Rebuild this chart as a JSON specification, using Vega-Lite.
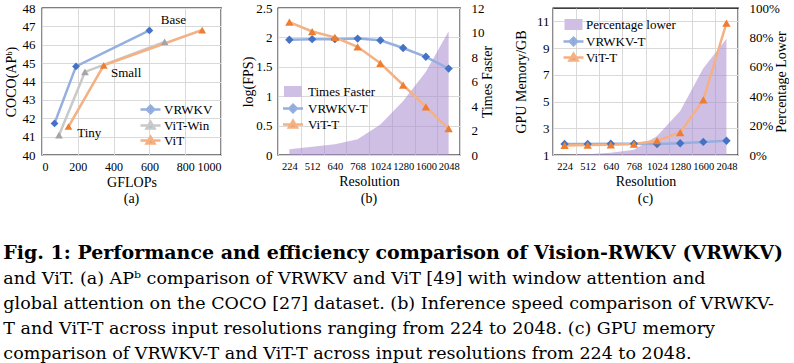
{
  "$schema": "https://vega.github.io/schema/vega-lite/v6.json",
  "background": "white",
  "padding": {"left": 3, "top": 1, "right": 0, "bottom": 0},
  "config": {
    "font": "Liberation Serif",
    "view": {"stroke": "black", "strokeWidth": 1.3},
    "axis": {"labelFont": "Liberation Serif", "titleFont": "Liberation Serif", "labelColor": "black", "titleColor": "black", "titleFontWeight": "normal", "ticks": false, "domain": false, "gridColor": "#d9d9d9", "gridWidth": 1, "labelFontSize": 13, "titleFontSize": 14, "labelOverlap": false},
    "legend": {"labelFont": "Liberation Serif", "labelColor": "black", "labelFontSize": 13, "padding": 0}
  },
  "title": {
    "text": "Fig. 1: Performance and efficiency comparison of Vision-RWKV (VRWKV)",
    "subtitle": ["and ViT. (a) APᵇ comparison of VRWKV and ViT [49] with window attention and", "global attention on the COCO [27] dataset. (b) Inference speed comparison of VRWKV-", "T and ViT-T across input resolutions ranging from 224 to 2048. (c) GPU memory", "comparison of VRWKV-T and ViT-T across input resolutions from 224 to 2048."],
    "orient": "bottom", "anchor": "start", "frame": "bounds", "offset": 37,
    "font": "DejaVu Serif", "fontSize": 19, "fontWeight": "bold", "color": "black",
    "subtitleFont": "DejaVu Serif", "subtitleFontSize": 17.5, "subtitleColor": "black", "subtitleLineHeight": 25, "subtitlePadding": 7
  },
  "spacing": 18,
  "resolve": {"scale": {"fill": "independent", "shape": "independent", "stroke": "independent"}, "legend": {"fill": "independent", "shape": "independent", "stroke": "independent"}},
  "hconcat": [
    {
      "width": 179, "height": 147,
      "title": {"text": "(a)", "orient": "bottom", "offset": 3, "fontSize": 14, "fontWeight": "normal", "font": "Liberation Serif", "color": "black"},
      "data": {"values": [
        {"model": "VRWKV", "gflops": 70, "ap": 41.72},
        {"model": "VRWKV", "gflops": 190, "ap": 44.82},
        {"model": "VRWKV", "gflops": 600, "ap": 46.78},
        {"model": "ViT-Win", "gflops": 95, "ap": 41.08},
        {"model": "ViT-Win", "gflops": 240, "ap": 44.52},
        {"model": "ViT-Win", "gflops": 685, "ap": 46.16},
        {"model": "ViT", "gflops": 148, "ap": 41.55},
        {"model": "ViT", "gflops": 345, "ap": 44.88},
        {"model": "ViT", "gflops": 895, "ap": 46.8}
      ]},
      "resolve": {"scale": {"fill": "independent", "shape": "independent", "stroke": "independent"}},
      "layer": [
        {
          "mark": {"type": "line", "strokeWidth": 2.5},
          "encoding": {
            "x": {"field": "gflops", "type": "quantitative", "scale": {"domain": [0, 1000]}, "axis": {"title": "GFLOPs", "values": [0, 200, 400, 600, 800, 1000], "format": "d", "labelOverlap": false, "labelFontSize": 12, "labelPadding": 6, "titlePadding": 3, "titleFontSize": 14}},
            "y": {"field": "ap", "type": "quantitative", "scale": {"domain": [40, 48]}, "axis": {"title": "COCO(APᵇ)", "values": [40, 41, 42, 43, 44, 45, 46, 47, 48], "labelOverlap": false, "labelPadding": 7, "titleX": -31, "titleBaseline": "middle"}},
            "stroke": {"field": "model", "type": "nominal", "scale": {"range": ["#95afdf", "#f4b183", "#c9c9c9"]}, "legend": null}
          }
        },
        {
          "mark": {"type": "point", "filled": true, "size": 60, "opacity": 1},
          "encoding": {
            "x": {"field": "gflops", "type": "quantitative", "scale": {"domain": [0, 1000]}, "axis": {"title": "GFLOPs", "values": [0, 200, 400, 600, 800, 1000], "format": "d", "labelOverlap": false, "labelFontSize": 12, "labelPadding": 6, "titlePadding": 3, "titleFontSize": 14}},
            "y": {"field": "ap", "type": "quantitative", "scale": {"domain": [40, 48]}, "axis": {"title": "COCO(APᵇ)", "values": [40, 41, 42, 43, 44, 45, 46, 47, 48], "labelOverlap": false, "labelPadding": 7, "titleX": -31, "titleBaseline": "middle"}},
            "fill": {"field": "model", "type": "nominal", "scale": {"range": ["#4472c4", "#ed7d31", "#a5a5a5"]}, "legend": null},
            "shape": {"field": "model", "type": "nominal", "scale": {"range": ["diamond", "triangle-up", "triangle-up"]}, "legend": null}
          }
        },
        {
          "data": {"values": [
            {"label": "Base", "gflops": 734, "ap": 47.37},
            {"label": "Small", "gflops": 470, "ap": 44.47},
            {"label": "Tiny", "gflops": 264, "ap": 41.18}
          ]},
          "mark": {"type": "text", "fontSize": 13, "font": "Liberation Serif", "color": "black"},
          "encoding": {
            "x": {"field": "gflops", "type": "quantitative", "scale": {"domain": [0, 1000]}, "axis": {"title": "GFLOPs", "values": [0, 200, 400, 600, 800, 1000], "format": "d", "labelOverlap": false, "labelFontSize": 12, "labelPadding": 6, "titlePadding": 3, "titleFontSize": 14}},
            "y": {"field": "ap", "type": "quantitative", "scale": {"domain": [40, 48]}, "axis": {"title": "COCO(APᵇ)", "values": [40, 41, 42, 43, 44, 45, 46, 47, 48], "labelOverlap": false, "labelPadding": 7, "titleX": -31, "titleBaseline": "middle"}},
            "text": {"field": "label"}
          }
        },
        {
          "transform": [{"filter": "false"}],
          "mark": {"type": "point", "filled": true},
          "encoding": {
            "fill": {"field": "model", "type": "nominal", "scale": {"domain": ["VRWKV", "ViT-Win", "ViT"], "range": ["#4472c4", "#a5a5a5", "#ed7d31"]},
              "legend": {"title": null, "orient": "none", "legendX": 102, "legendY": 95, "symbolSize": 100, "symbolStrokeWidth": 2.5, "symbolOpacity": 1, "rowPadding": -4, "labelOffset": 7}},
            "stroke": {"field": "model", "type": "nominal", "scale": {"domain": ["VRWKV", "ViT-Win", "ViT"], "range": ["#95afdf", "#c9c9c9", "#f4b183"]},
              "legend": {"title": null, "orient": "none", "legendX": 102, "legendY": 95, "symbolSize": 100, "symbolStrokeWidth": 2.5, "symbolOpacity": 1, "rowPadding": -4, "labelOffset": 7}},
            "shape": {"field": "model", "type": "nominal", "scale": {"domain": ["VRWKV", "ViT-Win", "ViT"], "range": ["M-2,0H2M0,-0.75L0.75,0L0,0.75L-0.75,0Z", "M-2,0H2M0,-0.75L0.8,0.6L-0.8,0.6Z", "M-2,0H2M0,-0.75L0.8,0.6L-0.8,0.6Z"]},
              "legend": {"title": null, "orient": "none", "legendX": 102, "legendY": 95, "symbolSize": 100, "symbolStrokeWidth": 2.5, "symbolOpacity": 1, "rowPadding": -4, "labelOffset": 7}}
          }
        }
      ]
    },
    {
      "width": 182, "height": 147,
      "title": {"text": "(b)", "orient": "bottom", "offset": 3, "fontSize": 14, "fontWeight": "normal", "font": "Liberation Serif", "color": "black"},
      "data": {"values": [
        {"res": "224", "fps": 1.96, "series": "VRWKV-T"},
        {"res": "512", "fps": 1.97, "series": "VRWKV-T"},
        {"res": "640", "fps": 1.97, "series": "VRWKV-T"},
        {"res": "768", "fps": 1.98, "series": "VRWKV-T"},
        {"res": "1024", "fps": 1.95, "series": "VRWKV-T"},
        {"res": "1280", "fps": 1.82, "series": "VRWKV-T"},
        {"res": "1600", "fps": 1.67, "series": "VRWKV-T"},
        {"res": "2048", "fps": 1.47, "series": "VRWKV-T"},
        {"res": "224", "fps": 2.26, "series": "ViT-T"},
        {"res": "512", "fps": 2.1, "series": "ViT-T"},
        {"res": "640", "fps": 2.0, "series": "ViT-T"},
        {"res": "768", "fps": 1.84, "series": "ViT-T"},
        {"res": "1024", "fps": 1.56, "series": "ViT-T"},
        {"res": "1280", "fps": 1.19, "series": "ViT-T"},
        {"res": "1600", "fps": 0.82, "series": "ViT-T"},
        {"res": "2048", "fps": 0.45, "series": "ViT-T"}
      ]},
      "layer": [
        {
          "data": {"values": [
            {"res": "224", "tf": 0.47},
            {"res": "512", "tf": 0.68},
            {"res": "640", "tf": 0.88},
            {"res": "768", "tf": 1.29},
            {"res": "1024", "tf": 2.5},
            {"res": "1280", "tf": 4.4},
            {"res": "1600", "tf": 6.8},
            {"res": "2048", "tf": 10.1}
          ]},
          "mark": {"type": "area", "color": "#a98bcf", "opacity": 0.55},
          "encoding": {
            "x": {"field": "res", "type": "ordinal", "bandPosition": 0.5, "scale": {"type": "band", "paddingInner": 0, "paddingOuter": 0, "domain": ["224", "512", "640", "768", "1024", "1280", "1600", "2048"]},
              "axis": {"title": "Resolution", "grid": true, "tickBand": "extent", "labelAngle": 0, "labelFontSize": 10.5, "labelPadding": 6, "titlePadding": 3}},
            "y": {"field": "tf", "type": "quantitative", "scale": {"domain": [0, 12]}, "axis": {"orient": "right", "title": "Times Faster", "values": [0, 2, 4, 6, 8, 10, 12], "labelOverlap": false, "grid": false, "labelPadding": 11, "titleAngle": 270, "titleX": 27, "titleBaseline": "middle"}}
          }
        },
        {
          "layer": [
            {
              "mark": {"type": "line", "strokeWidth": 2.5},
              "encoding": {
                "x": {"field": "res", "type": "ordinal", "bandPosition": 0.5, "axis": {"title": "Resolution", "grid": true, "tickBand": "extent", "labelAngle": 0, "labelFontSize": 10.5, "labelPadding": 6, "titlePadding": 3}},
                "y": {"field": "fps", "type": "quantitative", "scale": {"domain": [0, 2.5]}, "axis": {"orient": "left", "title": "log(FPS)", "values": [0, 0.5, 1, 1.5, 2, 2.5], "labelOverlap": false, "labelExpr": "'' + datum.value", "grid": true, "labelPadding": 6, "titleX": -30, "titleBaseline": "middle"}},
                "stroke": {"field": "series", "type": "nominal", "scale": {"range": ["#95afdf", "#f4b183"]}, "legend": null}
              }
            },
            {
              "mark": {"type": "point", "filled": true, "size": 70, "opacity": 1},
              "encoding": {
                "x": {"field": "res", "type": "ordinal", "bandPosition": 0.5, "axis": {"title": "Resolution", "grid": true, "tickBand": "extent", "labelAngle": 0, "labelFontSize": 10.5, "labelPadding": 6, "titlePadding": 3}},
                "y": {"field": "fps", "type": "quantitative", "scale": {"domain": [0, 2.5]}, "axis": {"orient": "left", "title": "log(FPS)", "values": [0, 0.5, 1, 1.5, 2, 2.5], "labelOverlap": false, "labelExpr": "'' + datum.value", "grid": true, "labelPadding": 6, "titleX": -30, "titleBaseline": "middle"}},
                "fill": {"field": "series", "type": "nominal", "scale": {"range": ["#4472c4", "#ed7d31"]}, "legend": null},
                "shape": {"field": "series", "type": "nominal", "scale": {"range": ["diamond", "triangle-up"]}, "legend": null}
              }
            }
          ]
        },
        {
          "transform": [{"filter": "false"}],
          "mark": {"type": "point", "filled": true},
          "encoding": {
            "fill": {"field": "series", "type": "nominal", "scale": {"domain": ["Times Faster", "VRWKV-T", "ViT-T"], "range": ["#d0bfe5", "#4472c4", "#ed7d31"]},
              "legend": {"title": null, "orient": "none", "legendX": 8.5, "legendY": 77, "symbolSize": 100, "symbolStrokeWidth": 2.5, "symbolOpacity": 1, "rowPadding": -4.5, "labelOffset": 8.5}},
            "stroke": {"field": "series", "type": "nominal", "scale": {"domain": ["Times Faster", "VRWKV-T", "ViT-T"], "range": ["transparent", "#95afdf", "#f4b183"]},
              "legend": {"title": null, "orient": "none", "legendX": 8.5, "legendY": 77, "symbolSize": 100, "symbolStrokeWidth": 2.5, "symbolOpacity": 1, "rowPadding": -4.5, "labelOffset": 8.5}},
            "shape": {"field": "series", "type": "nominal", "scale": {"domain": ["Times Faster", "VRWKV-T", "ViT-T"], "range": ["M-1.8,-1.1H1.8V1.1H-1.8Z", "M-2,0H2M0,-0.75L0.75,0L0,0.75L-0.75,0Z", "M-2,0H2M0,-0.75L0.8,0.6L-0.8,0.6Z"]},
              "legend": {"title": null, "orient": "none", "legendX": 8.5, "legendY": 77, "symbolSize": 100, "symbolStrokeWidth": 2.5, "symbolOpacity": 1, "rowPadding": -4.5, "labelOffset": 8.5}}
          }
        }
      ],
      "resolve": {"scale": {"y": "independent", "fill": "independent", "stroke": "independent", "shape": "independent"}}
    },
    {
      "width": 185, "height": 147,
      "title": {"text": "(c)", "orient": "bottom", "offset": 3, "fontSize": 14, "fontWeight": "normal", "font": "Liberation Serif", "color": "black"},
      "data": {"values": [
        {"res": "224", "mem": 1.82, "series": "VRWKV-T"},
        {"res": "512", "mem": 1.83, "series": "VRWKV-T"},
        {"res": "640", "mem": 1.84, "series": "VRWKV-T"},
        {"res": "768", "mem": 1.85, "series": "VRWKV-T"},
        {"res": "1024", "mem": 1.82, "series": "VRWKV-T"},
        {"res": "1280", "mem": 1.88, "series": "VRWKV-T"},
        {"res": "1600", "mem": 1.98, "series": "VRWKV-T"},
        {"res": "2048", "mem": 2.07, "series": "VRWKV-T"},
        {"res": "224", "mem": 1.72, "series": "ViT-T"},
        {"res": "512", "mem": 1.74, "series": "ViT-T"},
        {"res": "640", "mem": 1.76, "series": "ViT-T"},
        {"res": "768", "mem": 1.82, "series": "ViT-T"},
        {"res": "1024", "mem": 2.07, "series": "ViT-T"},
        {"res": "1280", "mem": 2.68, "series": "ViT-T"},
        {"res": "1600", "mem": 5.12, "series": "ViT-T"},
        {"res": "2048", "mem": 10.86, "series": "ViT-T"}
      ]},
      "layer": [
        {
          "data": {"values": [
            {"res": "224", "pl": 0.0},
            {"res": "512", "pl": 0.005},
            {"res": "640", "pl": 0.015},
            {"res": "768", "pl": 0.035},
            {"res": "1024", "pl": 0.13},
            {"res": "1280", "pl": 0.3},
            {"res": "1600", "pl": 0.59},
            {"res": "2048", "pl": 0.79}
          ]},
          "mark": {"type": "area", "color": "#a98bcf", "opacity": 0.55},
          "encoding": {
            "x": {"field": "res", "type": "ordinal", "bandPosition": 0.5, "scale": {"type": "band", "paddingInner": 0, "paddingOuter": 0, "domain": ["224", "512", "640", "768", "1024", "1280", "1600", "2048"]},
              "axis": {"title": "Resolution", "grid": true, "tickBand": "extent", "labelAngle": 0, "labelFontSize": 10.5, "labelPadding": 6, "titlePadding": 3}},
            "y": {"field": "pl", "type": "quantitative", "scale": {"domain": [0, 1]}, "axis": {"orient": "right", "title": "Percentage Lower", "values": [0, 0.2, 0.4, 0.6, 0.8, 1], "labelOverlap": false, "format": ".0%", "grid": false, "labelPadding": 11, "titleAngle": 270, "titleX": 43, "titleBaseline": "middle"}}
          }
        },
        {
          "layer": [
            {
              "mark": {"type": "line", "strokeWidth": 2.5},
              "encoding": {
                "x": {"field": "res", "type": "ordinal", "bandPosition": 0.5, "axis": {"title": "Resolution", "grid": true, "tickBand": "extent", "labelAngle": 0, "labelFontSize": 10.5, "labelPadding": 6, "titlePadding": 3}},
                "y": {"field": "mem", "type": "quantitative", "scale": {"domain": [1, 12]}, "axis": {"orient": "left", "title": "GPU Memory/GB", "values": [1, 3, 5, 7, 9, 11], "labelOverlap": false, "grid": true, "labelPadding": 4, "titleX": -32, "titleBaseline": "middle"}},
                "stroke": {"field": "series", "type": "nominal", "scale": {"range": ["#95afdf", "#f4b183"]}, "legend": null}
              }
            },
            {
              "mark": {"type": "point", "filled": true, "size": 70, "opacity": 1},
              "encoding": {
                "x": {"field": "res", "type": "ordinal", "bandPosition": 0.5, "axis": {"title": "Resolution", "grid": true, "tickBand": "extent", "labelAngle": 0, "labelFontSize": 10.5, "labelPadding": 6, "titlePadding": 3}},
                "y": {"field": "mem", "type": "quantitative", "scale": {"domain": [1, 12]}, "axis": {"orient": "left", "title": "GPU Memory/GB", "values": [1, 3, 5, 7, 9, 11], "labelOverlap": false, "grid": true, "labelPadding": 4, "titleX": -32, "titleBaseline": "middle"}},
                "fill": {"field": "series", "type": "nominal", "scale": {"range": ["#4472c4", "#ed7d31"]}, "legend": null},
                "shape": {"field": "series", "type": "nominal", "scale": {"range": ["diamond", "triangle-up"]}, "legend": null}
              }
            }
          ]
        },
        {
          "transform": [{"filter": "false"}],
          "mark": {"type": "point", "filled": true},
          "encoding": {
            "fill": {"field": "series", "type": "nominal", "scale": {"domain": ["Percentage lower", "VRWKV-T", "ViT-T"], "range": ["#d0bfe5", "#4472c4", "#ed7d31"]},
              "legend": {"title": null, "orient": "none", "legendX": 14, "legendY": 10, "symbolSize": 100, "symbolStrokeWidth": 2.5, "symbolOpacity": 1, "rowPadding": -4, "labelOffset": 6}},
            "stroke": {"field": "series", "type": "nominal", "scale": {"domain": ["Percentage lower", "VRWKV-T", "ViT-T"], "range": ["transparent", "#95afdf", "#f4b183"]},
              "legend": {"title": null, "orient": "none", "legendX": 14, "legendY": 10, "symbolSize": 100, "symbolStrokeWidth": 2.5, "symbolOpacity": 1, "rowPadding": -4, "labelOffset": 6}},
            "shape": {"field": "series", "type": "nominal", "scale": {"domain": ["Percentage lower", "VRWKV-T", "ViT-T"], "range": ["M-1.8,-1.1H1.8V1.1H-1.8Z", "M-2,0H2M0,-0.75L0.75,0L0,0.75L-0.75,0Z", "M-2,0H2M0,-0.75L0.8,0.6L-0.8,0.6Z"]},
              "legend": {"title": null, "orient": "none", "legendX": 14, "legendY": 10, "symbolSize": 100, "symbolStrokeWidth": 2.5, "symbolOpacity": 1, "rowPadding": -4, "labelOffset": 6}}
          }
        }
      ],
      "resolve": {"scale": {"y": "independent", "fill": "independent", "stroke": "independent", "shape": "independent"}}
    }
  ]
}
